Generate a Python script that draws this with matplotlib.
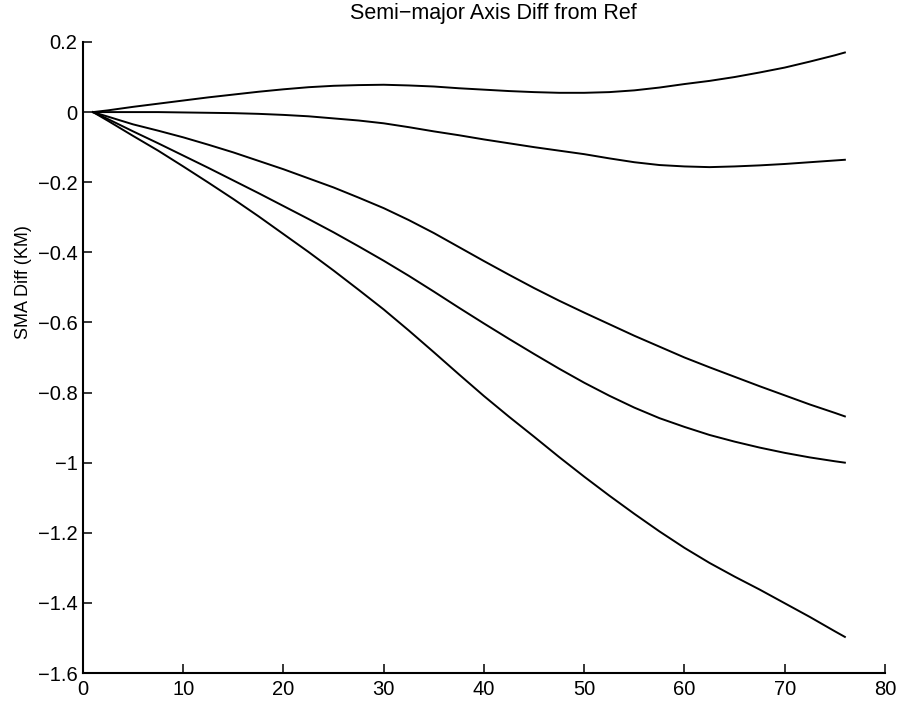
import matplotlib
matplotlib.use("Agg")
import matplotlib.pyplot as plt

plt.rcParams["font.family"] = ["Liberation Sans", "DejaVu Sans"]

# Elapsed time samples and SMA differences (km) for each case
x = [1, 2.5, 5, 7.5, 10, 12.5, 15, 17.5, 20, 22.5, 25, 27.5, 30, 32.5, 35,
     37.5, 40, 42.5, 45, 47.5, 50, 52.5, 55, 57.5, 60, 62.5, 65, 67.5, 70,
     72.5, 75, 76]
sma_a = [0.0, 0.005, 0.015, 0.024, 0.033, 0.042, 0.050, 0.058, 0.065, 0.071,
         0.075, 0.077, 0.078, 0.076, 0.073, 0.068, 0.064, 0.060, 0.057, 0.055,
         0.055, 0.057, 0.062, 0.070, 0.080, 0.089, 0.100, 0.113, 0.127, 0.144,
         0.162, 0.170]
sma_b = [0.0, 0.0, 0.0, 0.0, -0.001, -0.002, -0.003, -0.005, -0.008, -0.012,
         -0.018, -0.024, -0.032, -0.043, -0.055, -0.066, -0.078, -0.089,
         -0.100, -0.110, -0.120, -0.132, -0.143, -0.151, -0.155, -0.157,
         -0.155, -0.152, -0.148, -0.143, -0.138, -0.136]
sma_c = [0.0, -0.013, -0.035, -0.053, -0.072, -0.093, -0.115, -0.139, -0.163,
         -0.189, -0.215, -0.244, -0.274, -0.308, -0.345, -0.385, -0.425,
         -0.464, -0.502, -0.538, -0.572, -0.605, -0.638, -0.669, -0.700,
         -0.728, -0.755, -0.782, -0.808, -0.834, -0.858, -0.868]
sma_d = [0.0, -0.020, -0.055, -0.089, -0.124, -0.159, -0.195, -0.231, -0.268,
         -0.305, -0.343, -0.383, -0.424, -0.467, -0.512, -0.558, -0.603,
         -0.647, -0.690, -0.732, -0.772, -0.809, -0.843, -0.873, -0.898,
         -0.921, -0.940, -0.957, -0.972, -0.985, -0.996, -1.000]
sma_e = [0.0, -0.025, -0.068, -0.110, -0.155, -0.201, -0.248, -0.297, -0.348,
         -0.399, -0.452, -0.507, -0.563, -0.623, -0.685, -0.748, -0.810,
         -0.869, -0.926, -0.984, -1.040, -1.094, -1.146, -1.196, -1.243,
         -1.286, -1.325, -1.362, -1.401, -1.440, -1.481, -1.497]

xticks = [0, 10, 20, 30, 40, 50, 60, 70, 80]
yticks = [0.2, 0, -0.2, -0.4, -0.6, -0.8, -1, -1.2, -1.4, -1.6]
yticklabels = ["0.2", "0", "\u22120.2", "\u22120.4", "\u22120.6", "\u22120.8",
               "\u22121", "\u22121.2", "\u22121.4", "\u22121.6"]

fig = plt.figure(figsize=(9, 7.02), dpi=100)
ax = fig.add_axes([0.0922, 0.0413, 0.8911, 0.8989])

for series in (sma_a, sma_b, sma_c, sma_d, sma_e):
    ax.plot(x, series, color="black", linewidth=1.4)

ax.set_xlim(0, 80)
ax.set_ylim(-1.6, 0.2)
ax.set_xticks(xticks)
ax.set_xticklabels([str(t) for t in xticks])
ax.set_yticks(yticks)
ax.set_yticklabels(yticklabels)

for side in ("top", "right"):
    ax.spines[side].set_visible(False)
for side in ("left", "bottom"):
    ax.spines[side].set_linewidth(1.5)

ax.tick_params(direction="in", length=6.5, width=1.1, labelsize=14.5)
ax.tick_params(axis="x", pad=5)
ax.tick_params(axis="y", pad=4)

ax.set_ylabel("SMA Diff (KM)", fontsize=13)
ax.yaxis.set_label_coords(-0.064, 0.62)

fig.text(493 / 900, 1 - 19 / 702, "Semi\u2212major Axis Diff from Ref",
         fontsize=15.5, ha="center", va="baseline")

fig.savefig("out.png", dpi=100)
